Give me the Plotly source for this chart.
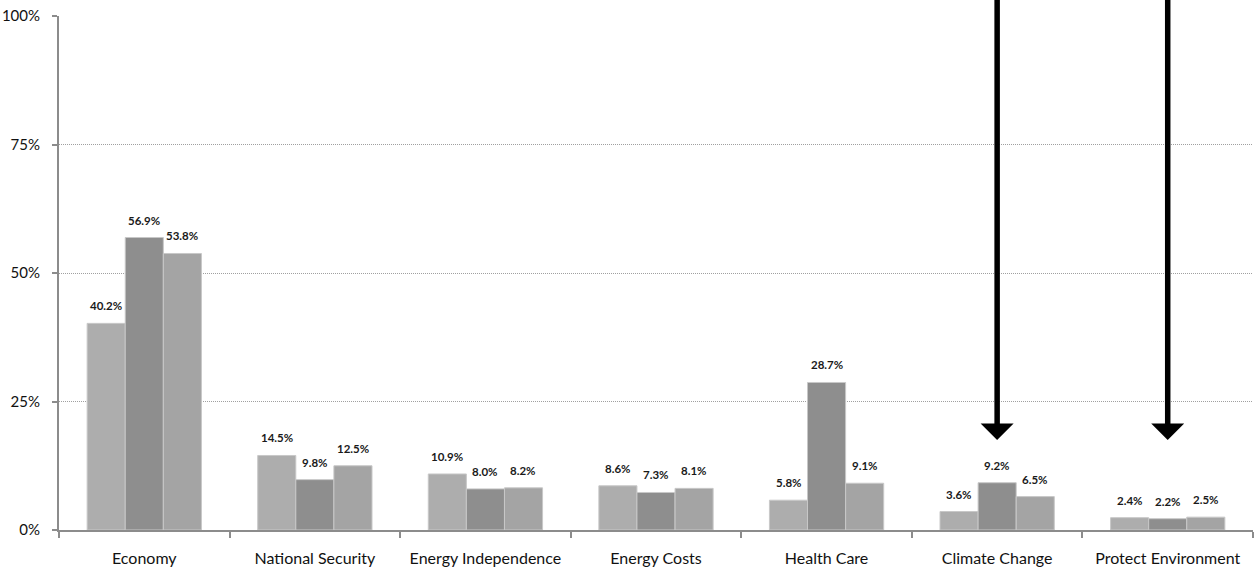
import plotly.graph_objects as go

categories = ["Economy", "National Security", "Energy Independence", "Energy Costs",
              "Health Care", "Climate Change", "Protect Environment"]
series_a = [40.2, 14.5, 10.9, 8.6, 5.8, 3.6, 2.4]
series_b = [56.9, 9.8, 8.0, 7.3, 28.7, 9.2, 2.2]
series_c = [53.8, 12.5, 8.2, 8.1, 9.1, 6.5, 2.5]
series_names = ["Series A", "Series B", "Series C"]
series_colors = ["#adadad", "#8e8e8e", "#a4a4a4"]
arrow_targets = ["Climate Change", "Protect Environment"]
y_ticks = [0, 25, 50, 75, 100]
y_tick_text = ["0%", "25%", "50%", "75%", "100%"]

all_series = [series_a, series_b, series_c]

fig = go.Figure()
for name, vals, col in zip(series_names, all_series, series_colors):
    fig.add_trace(go.Bar(
        x=categories, y=vals, name=name,
        marker=dict(color=col, line=dict(color="#c8c8c8", width=1)),
        showlegend=False,
    ))

# value labels above each bar
bar_px = 38
for i, vals in enumerate(all_series):
    for cat, v in zip(categories, vals):
        fig.add_annotation(
            x=cat, y=v, text=f"<b>{v:.1f}%</b>", showarrow=False,
            xshift=(i - 1) * bar_px, yshift=9, yanchor="bottom",
            font=dict(family="Lato, 'Open Sans', sans-serif", size=11.5, color="#1a1a1a"),
        )

# emphasis arrows pointing down at selected categories
for cat in arrow_targets:
    fig.add_annotation(
        x=cat, y=17.5, ax=cat, ay=104, axref="x", ayref="y",
        text="", showarrow=True, arrowhead=1, arrowsize=1, arrowwidth=5.5,
        arrowcolor="#000000",
    )

fig.update_layout(
    width=1260, height=578,
    margin=dict(l=59, r=7, t=16, b=48),
    paper_bgcolor="white", plot_bgcolor="white",
    barmode="group", bargap=0.33, bargroupgap=0,
    font=dict(family="Lato, 'Open Sans', sans-serif", size=16, color="#111"),
)
fig.update_xaxes(
    showline=True, linecolor="#8c8c8c", linewidth=2,
    ticks="outside", tickson="boundaries", ticklen=6, tickcolor="#8c8c8c", tickwidth=2,
    ticklabelstandoff=13, showgrid=False, automargin=False,
)
fig.update_yaxes(
    range=[0, 100], tickvals=y_ticks, ticktext=y_tick_text,
    tickfont=dict(size=15),
    showline=True, linecolor="#8c8c8c", linewidth=2,
    ticks="outside", ticklen=5, tickcolor="#8c8c8c", tickwidth=2,
    showgrid=True, gridcolor="#a0a0a0", gridwidth=1, griddash="1px,1px",
    zeroline=False, ticklabelstandoff=9, automargin=False,
)

fig.write_html("out.html")
